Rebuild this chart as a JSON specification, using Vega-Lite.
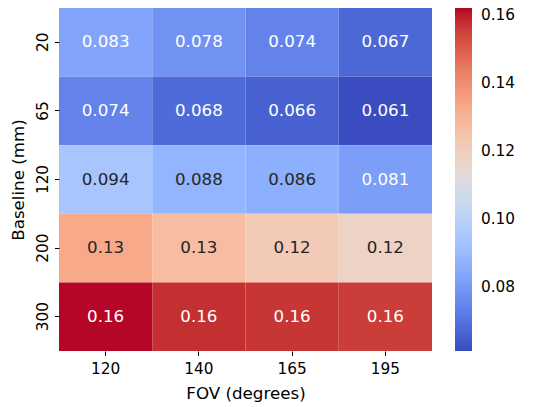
{
  "$schema": "https://vega.github.io/schema/vega-lite/v6.json",
  "autosize": "none",
  "width": 373,
  "height": 343,
  "padding": {"left": 59, "top": 8, "right": 122, "bottom": 56},
  "background": "white",
  "config": {
    "font": "DejaVu Sans",
    "view": {"stroke": null},
    "axis": {"labelFont": "DejaVu Sans", "titleFont": "DejaVu Sans", "labelFontSize": 15.3, "titleFontSize": 16.7, "titleFontWeight": "normal", "labelColor": "#000000", "titleColor": "#000000", "tickColor": "#000000", "tickSize": 4.5, "domain": false, "grid": false},
    "legend": {"labelFont": "DejaVu Sans", "labelFontSize": 15.3, "labelColor": "#000000"}
  },
  "data": {
    "values": [
      {"baseline": "20", "fov": "120", "value": 0.083},
      {"baseline": "20", "fov": "140", "value": 0.078},
      {"baseline": "20", "fov": "165", "value": 0.074},
      {"baseline": "20", "fov": "195", "value": 0.067},
      {"baseline": "65", "fov": "120", "value": 0.074},
      {"baseline": "65", "fov": "140", "value": 0.068},
      {"baseline": "65", "fov": "165", "value": 0.066},
      {"baseline": "65", "fov": "195", "value": 0.061},
      {"baseline": "120", "fov": "120", "value": 0.094},
      {"baseline": "120", "fov": "140", "value": 0.088},
      {"baseline": "120", "fov": "165", "value": 0.086},
      {"baseline": "120", "fov": "195", "value": 0.081},
      {"baseline": "200", "fov": "120", "value": 0.133},
      {"baseline": "200", "fov": "140", "value": 0.127},
      {"baseline": "200", "fov": "165", "value": 0.122},
      {"baseline": "200", "fov": "195", "value": 0.118},
      {"baseline": "300", "fov": "120", "value": 0.162},
      {"baseline": "300", "fov": "140", "value": 0.158},
      {"baseline": "300", "fov": "165", "value": 0.157},
      {"baseline": "300", "fov": "195", "value": 0.156}
    ]
  },
  "encoding": {
    "x": {"field": "fov", "type": "ordinal", "sort": ["120", "140", "165", "195"], "title": "FOV (degrees)", "axis": {"labelAngle": 0, "labelPadding": 6, "titlePadding": 9}},
    "y": {"field": "baseline", "type": "ordinal", "sort": ["20", "65", "120", "200", "300"], "title": "Baseline (mm)", "axis": {"labelAngle": -90, "labelAlign": "center", "labelBaseline": "bottom", "labelPadding": 4, "titlePadding": 8}}
  },
  "layer": [
    {
      "mark": {"type": "rect", "stroke": null},
      "encoding": {
        "color": {
          "field": "value",
          "type": "quantitative",
          "scale": {
            "type": "linear",
            "domain": [0.061, 0.0641625, 0.067325, 0.0704875, 0.07365, 0.0768125, 0.079975, 0.0831375, 0.0863, 0.0894625, 0.092625, 0.0957875, 0.09895, 0.1021125, 0.105275, 0.1084375, 0.1116, 0.1147625, 0.117925, 0.1210875, 0.12425, 0.1274125, 0.130575, 0.1337375, 0.1369, 0.1400625, 0.143225, 0.1463875, 0.14955, 0.1527125, 0.155875, 0.1590375, 0.1622],
            "range": ["rgb(59,76,192)", "rgb(68,90,204)", "rgb(77,104,215)", "rgb(87,117,225)", "rgb(98,130,234)", "rgb(108,142,241)", "rgb(119,154,247)", "rgb(130,165,251)", "rgb(141,176,254)", "rgb(152,185,255)", "rgb(163,194,255)", "rgb(174,201,253)", "rgb(184,208,249)", "rgb(194,213,244)", "rgb(204,217,238)", "rgb(213,219,230)", "rgb(221,221,221)", "rgb(229,216,209)", "rgb(236,211,197)", "rgb(241,204,185)", "rgb(245,196,173)", "rgb(247,187,160)", "rgb(247,177,148)", "rgb(247,166,135)", "rgb(244,154,123)", "rgb(241,141,111)", "rgb(236,127,99)", "rgb(229,112,88)", "rgb(222,96,77)", "rgb(213,80,66)", "rgb(203,62,56)", "rgb(192,40,47)", "rgb(180,4,38)"],
            "interpolate": "rgb"
          },
          "legend": {"type": "gradient", "title": null, "values": [0.08, 0.1, 0.12, 0.14, 0.16], "format": ".2f", "gradientLength": 343, "gradientThickness": 17, "gradientStrokeWidth": 0, "offset": 23, "padding": 0, "labelOffset": 9, "orient": "right"}
        }
      }
    },
    {
      "mark": {"type": "text", "fontSize": 16.7, "font": "DejaVu Sans"},
      "encoding": {
        "text": {"field": "value", "type": "quantitative", "format": ".2g"},
        "color": {
          "condition": {"test": "datum.value > 0.084 && datum.value < 0.15", "value": "#262626"},
          "value": "#ffffff"
        }
      }
    }
  ]
}
